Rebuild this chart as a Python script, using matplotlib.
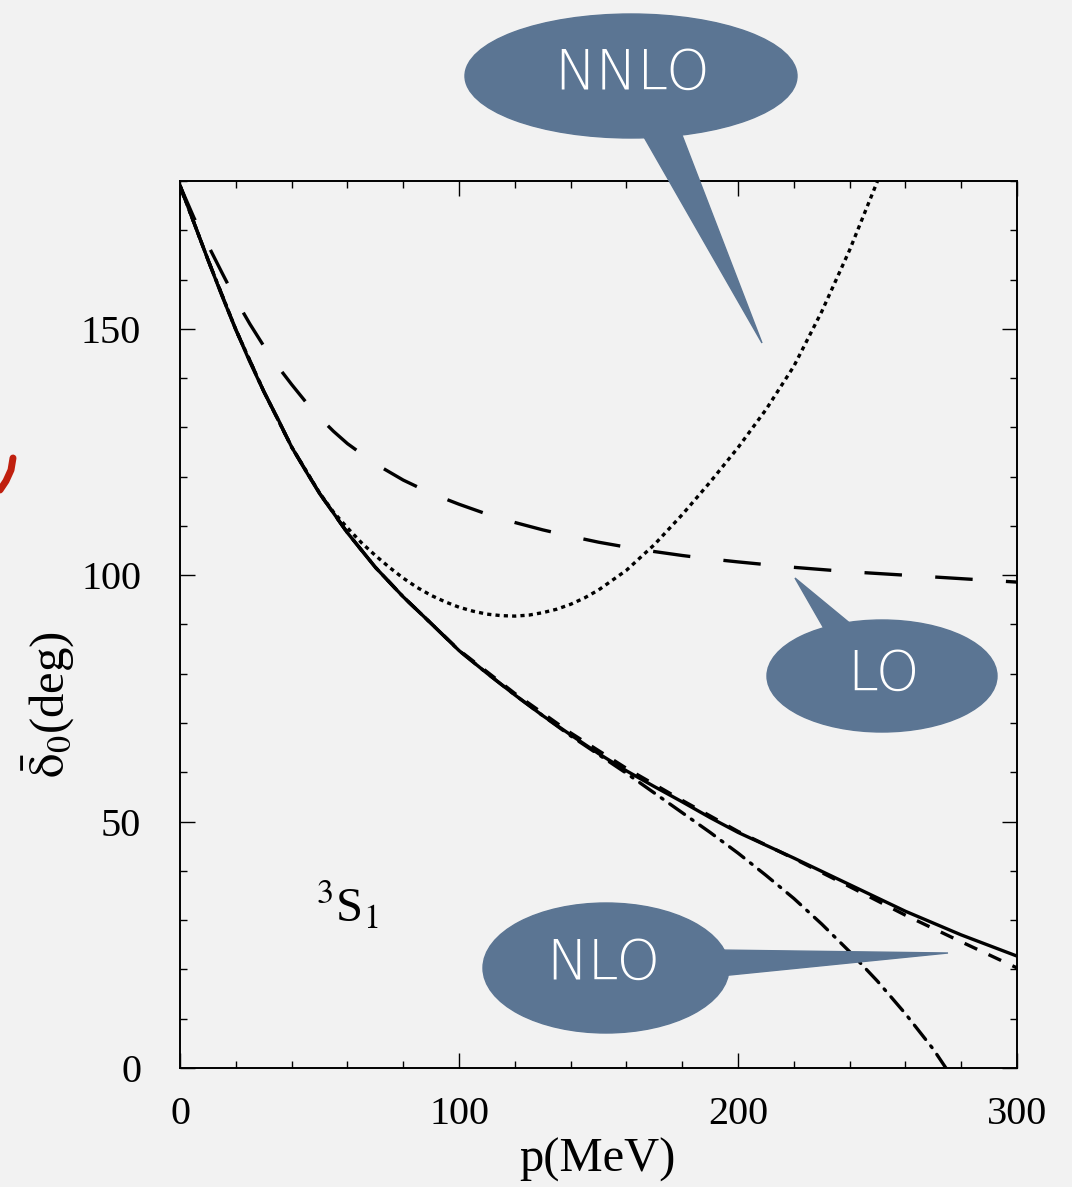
import matplotlib
matplotlib.use("Agg")
import matplotlib.pyplot as plt
from matplotlib.patches import Ellipse, Polygon
from matplotlib.ticker import MultipleLocator

plt.rcParams['font.family'] = 'Liberation Serif'
plt.rcParams['mathtext.fontset'] = 'stix'
plt.rcParams['lines.scale_dashes'] = False

# curves: p (MeV) and delta (deg)
p_full = [0, 5, 10, 15, 20, 25, 30, 35, 40, 45, 50, 60, 70, 80, 90, 100, 110, 120,
          130, 140, 150, 160, 170, 180, 190, 200, 220, 240, 260, 280, 300]
d_full = [179, 171.5, 164, 156.7, 149.8, 143.3, 137.3, 131.8, 126, 121.2, 116.6, 108.6,
          101.6, 95.6, 90.2, 84.7, 80.1, 75.7, 71.5, 67.6, 63.8, 60.3, 57.1, 54, 50.8,
          47.8, 42.6, 37.2, 31.8, 27, 22.7]

p_nlo2 = [0, 10, 20, 30, 40, 50, 60, 70, 80, 90, 100, 120, 140, 160, 180, 200, 220,
          240, 260, 280, 300]
d_nlo2 = [179, 164, 149.8, 137.3, 126, 116.6, 108.6, 101.6, 95.6, 90.2, 84.8, 76,
          68, 60.8, 54.3, 48, 42.5, 36.8, 31, 25.6, 20.3]

p_nlo = [0, 10, 20, 30, 40, 50, 60, 70, 80, 90, 100, 110, 120, 130, 140, 150, 160,
         170, 180, 190, 200, 210, 220, 230, 240, 250, 260, 270, 274.5]
d_nlo = [179, 164, 149.8, 137.3, 126, 116.6, 108.6, 101.6, 95.6, 90.2, 84.7, 80.1,
         75.7, 71.5, 67.4, 63.6, 59.8, 55.8, 51.8, 47.8, 43.6, 39.1, 34.4, 29.2,
         23.6, 17.6, 11.0, 3.8, 0]

p_nnlo = [0, 10, 20, 30, 40, 50, 55, 60, 65, 70, 75, 80, 85, 90, 95, 100, 105, 110,
          115, 120, 125, 130, 135, 140, 145, 150, 160, 170, 180, 190, 200, 210, 220,
          230, 240, 250]
d_nnlo = [179, 164, 149.8, 137.3, 126, 116.7, 112.8, 109.6, 106.6, 104, 101.6, 99.4,
          97.5, 95.9, 94.6, 93.5, 92.7, 92.1, 91.8, 91.7, 91.9, 92.4, 93.1, 94.1,
          95.4, 97.0, 101.0, 106.2, 112.3, 118.9, 125.9, 133.6, 142.4, 153.5, 166, 180]

p_lo = [0, 5, 10, 15, 20, 25, 30, 35, 40, 45, 50, 55, 60, 70, 80, 90, 100, 110, 120,
        130, 140, 150, 160, 170, 180, 190, 200, 220, 240, 260, 280, 300]
d_lo = [179, 172.5, 167, 161.4, 155.9, 151, 146.5, 142.4, 138.7, 135.2, 132, 129.2,
        126.7, 122.6, 119.3, 116.6, 114.4, 112.4, 110.7, 109.2, 107.9, 106.7, 105.7,
        104.8, 104.0, 103.3, 102.7, 101.6, 100.7, 100.0, 99.3, 98.6]

x_ticks = [0, 100, 200, 300]
y_ticks = [0, 50, 100, 150]

bg = '#f2f2f2'
bubble = '#5b7593'

fig = plt.figure(figsize=(10.72, 11.87), dpi=100, facecolor=bg)
ax = fig.add_axes([0.168, 0.1003, 0.7807, 0.7472], facecolor=bg)

lw = 2.4
ax.plot(p_full, d_full, color='k', lw=lw, zorder=5)
ax.plot(p_nlo2, d_nlo2, color='k', lw=lw, linestyle=(0, (10, 9)), zorder=4)
ax.plot(p_nlo, d_nlo, color='k', lw=lw, linestyle=(0, (13, 6, 1.5, 6)),
        dash_capstyle='round', zorder=4)
ax.plot(p_nnlo, d_nnlo, color='k', lw=lw, linestyle=(0, (3, 3)), zorder=4)
ax.plot(p_lo, d_lo, color='k', lw=lw, linestyle=(0, (27, 24)), zorder=4)

ax.set_xlim(0, 300)
ax.set_ylim(0, 180)
ax.set_xticks(x_ticks)
ax.set_yticks(y_ticks)
ax.xaxis.set_minor_locator(MultipleLocator(20))
ax.yaxis.set_minor_locator(MultipleLocator(10))
ax.tick_params(which='both', direction='in', top=True, right=True, width=1.0,
               labelsize=29)
ax.tick_params(which='major', length=11)
ax.tick_params(which='minor', length=5)
ax.tick_params(axis='x', pad=20)
ax.tick_params(axis='y', pad=28)
for s in ax.spines.values():
    s.set_linewidth(1.4)

ax.text(60, 33, r'$^3$S$_1$', fontsize=35, ha='center', va='center')

fig.text(0.557, 0.004, 'p(MeV)', fontsize=35, ha='center', va='bottom')
fig.text(0.045, 0.406, r'$\bar{\mathrm{\delta}}_0$(deg)', fontsize=35, rotation=90,
         ha='center', va='center')

# overlay for the speech bubbles, in pixel coordinates
ov = fig.add_axes([0, 0, 1, 1], facecolor='none')
ov.set_xlim(0, 1072)
ov.set_ylim(1187, 0)
ov.axis('off')

txt = dict(color='white', ha='center', va='center', family='DejaVu Sans',
           fontweight='light', fontsize=40)

ov.add_patch(Ellipse((631, 76), 332, 124, color=bubble, zorder=2))
ov.add_patch(Polygon([(640, 130), (680, 130), (762, 343)], color=bubble, zorder=2))
ov.text(632, 74, 'NNLO', **txt)

ov.add_patch(Ellipse((882, 676), 230, 112, color=bubble, zorder=2))
ov.add_patch(Polygon([(826, 632), (852, 625), (795, 578)], color=bubble, zorder=2))
ov.text(883, 675, 'LO', **txt)

ov.add_patch(Ellipse((606, 968), 246, 130, color=bubble, zorder=2))
ov.add_patch(Polygon([(718, 950), (720, 976), (948, 953)], color=bubble, zorder=2))
ov.text(603, 964, 'NLO', **txt)

# red pen mark at the left edge
ov.plot([13, 11, 6, 0], [458, 470, 481, 490], color='#c0200f', lw=5,
        solid_capstyle='round')

plt.savefig('out.png', dpi=100, facecolor=bg)
